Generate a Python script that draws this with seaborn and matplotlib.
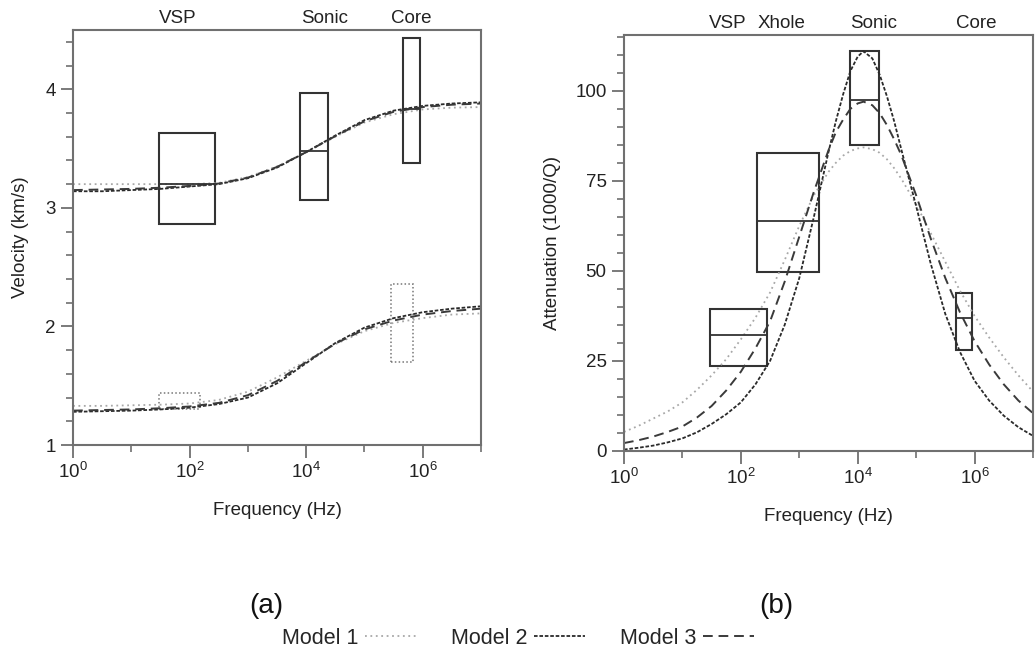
import numpy as np
import pandas as pd
import matplotlib
matplotlib.use("Agg")
import matplotlib.pyplot as plt
import seaborn as sns
from matplotlib.patches import Rectangle
from matplotlib.ticker import FixedLocator, FuncFormatter
from matplotlib.lines import Line2D
import matplotlib.transforms as mtransforms

# ---------------- data ----------------
models = ["Model 1", "Model 2", "Model 3"]

# velocity curves (log10 frequency grid)
vel_exp = [0, 0.5, 1, 1.5, 2, 2.5, 3, 3.5, 4, 4.5, 5, 5.5, 6, 6.5, 7]
vp_m1 = [3.20, 3.20, 3.20, 3.20, 3.20, 3.21, 3.26, 3.35, 3.47, 3.60, 3.72, 3.79, 3.83, 3.845, 3.85]
vp_m2 = [3.14, 3.14, 3.15, 3.16, 3.18, 3.20, 3.25, 3.34, 3.47, 3.61, 3.74, 3.82, 3.86, 3.88, 3.89]
vp_m3 = [3.15, 3.155, 3.16, 3.17, 3.185, 3.205, 3.255, 3.345, 3.47, 3.605, 3.73, 3.81, 3.85, 3.87, 3.88]
vs_m1 = [1.33, 1.33, 1.335, 1.34, 1.35, 1.38, 1.45, 1.57, 1.71, 1.85, 1.96, 2.03, 2.07, 2.10, 2.11]
vs_m2 = [1.28, 1.285, 1.29, 1.30, 1.315, 1.345, 1.40, 1.52, 1.69, 1.86, 1.99, 2.07, 2.12, 2.15, 2.17]
vs_m3 = [1.29, 1.295, 1.30, 1.31, 1.325, 1.355, 1.42, 1.54, 1.70, 1.855, 1.975, 2.05, 2.10, 2.13, 2.15]

# attenuation curves
att_exp = [0, 0.25, 0.5, 0.75, 1, 1.25, 1.5, 1.75, 2, 2.25, 2.5, 2.75, 3, 3.25, 3.5,
           3.625, 3.75, 3.875, 4, 4.1, 4.25, 4.375, 4.5, 4.625, 4.75, 5, 5.25, 5.5,
           5.75, 6, 6.25, 6.5, 6.75, 7]
att_m1 = [5.3, 7.0, 9.0, 11.0, 13.5, 17.0, 21.0, 25.5, 31.0, 37.0, 44.0, 53.0, 62.5, 71.0, 77.5,
          80.0, 82.0, 83.3, 84.0, 84.3, 83.8, 82.8, 81.0, 78.5, 75.5, 68.5, 60.5, 52.5,
          44.5, 37.5, 31.5, 26.0, 21.0, 16.5]
att_m2 = [0.4, 0.9, 1.5, 2.4, 3.5, 5.2, 7.5, 10.2, 13.5, 18.5, 25.0, 35.0, 48.0, 65.0, 83.0,
          91.5, 99.0, 105.5, 109.5, 111.0, 109.0, 104.5, 98.5, 91.5, 83.5, 68.0, 52.0, 38.0,
          27.5, 19.5, 14.0, 9.8, 6.6, 4.2]
att_m3 = [2.2, 3.0, 4.0, 5.3, 6.8, 9.3, 12.5, 16.8, 22.0, 28.5, 36.0, 47.0, 59.5, 72.0, 83.5,
          88.5, 92.0, 95.0, 96.5, 97.0, 96.0, 93.8, 90.5, 86.5, 82.0, 71.0, 59.0, 48.0,
          38.5, 30.5, 24.0, 18.5, 14.0, 10.5]

# P-wave boxes (velocity panel, solid)
p_box_names = ["VSP", "Sonic", "Core"]
p_box_lo_exp = [1.47, 3.90, 5.67]
p_box_hi_exp = [2.43, 4.38, 5.95]
p_box_low = [2.86, 3.07, 3.38]
p_box_high = [3.63, 3.97, 4.43]
p_box_med = [3.20, 3.48, 3.83]
# S-wave boxes (velocity panel, dotted)
s_box_lo_exp = [1.47, 5.45]
s_box_hi_exp = [2.17, 5.83]
s_box_low = [1.30, 1.70]
s_box_high = [1.44, 2.36]

# attenuation boxes
q_box_names = ["VSP", "Xhole", "Sonic", "Core"]
q_box_lo_exp = [1.47, 2.27, 3.86, 5.68]
q_box_hi_exp = [2.44, 3.33, 4.36, 5.95]
q_box_low = [23.6, 49.7, 85.0, 28.0]
q_box_high = [39.4, 82.8, 111.0, 43.9]
q_box_med = [32.2, 63.9, 97.5, 37.0]

# top labels
vel_label_names = ["VSP", "Sonic", "Core"]
vel_label_exp = [1.79, 4.31, 5.81]
att_label_names = ["VSP", "Xhole", "Sonic", "Core"]
att_label_exp = [1.78, 2.70, 4.27, 6.03]

# ---------------- style ----------------
sns.set_theme(style="ticks")
plt.rcParams["font.family"] = ["Liberation Sans", "DejaVu Sans"]
plt.rcParams["mathtext.fontset"] = "custom"
plt.rcParams["mathtext.rm"] = "Liberation Sans"
plt.rcParams["mathtext.it"] = "Liberation Sans:italic"

styles = {
    "Model 1": dict(color="#a8a8a8", linestyle=(0, (1, 2)), linewidth=1.3),
    "Model 2": dict(color="#2a2a2a", linestyle=(0, (2, 1)), linewidth=1.3),
    "Model 3": dict(color="#3a3a3a", linestyle=(0, (5, 3)), linewidth=1.4),
}
spine_col = "#707070"
box_col = "#333333"
FS = 13.5

fig = plt.figure(figsize=(10.36, 6.58), dpi=100)
axL = fig.add_axes([0.0705, 0.3237, 0.3938, 0.6307])
axR = fig.add_axes([0.6023, 0.3146, 0.3948, 0.6322])


def style_axis(ax):
    ax.set_xscale("log")
    ax.set_xlim(1, 1e7)
    ax.xaxis.set_major_locator(FixedLocator([1, 1e2, 1e4, 1e6]))
    ax.xaxis.set_minor_locator(FixedLocator([1e1, 1e3, 1e5, 1e7]))
    ax.xaxis.set_major_formatter(FuncFormatter(lambda v, p: r"$10^{%d}$" % round(np.log10(v))))
    ax.xaxis.set_minor_formatter(FuncFormatter(lambda v, p: ""))
    for s in ax.spines.values():
        s.set_color(spine_col)
        s.set_linewidth(1.5)
        s.set_visible(True)
    ax.tick_params(which="major", direction="out", length=9, width=1.3, color=spine_col,
                   labelsize=FS, labelcolor="#222222", top=False, right=False)
    ax.tick_params(which="minor", direction="out", length=5, width=1.2, color=spine_col,
                   top=False, right=False)
    ax.set_xlabel("Frequency (Hz)", fontsize=FS, color="#222222", labelpad=14)


# ---------------- left: velocity ----------------
vx = 10.0 ** np.array(vel_exp)
for name, vp, vs in zip(models, [vp_m1, vp_m2, vp_m3], [vs_m1, vs_m2, vs_m3]):
    sns.lineplot(x=vx, y=vp, ax=axL, **styles[name])
    sns.lineplot(x=vx, y=vs, ax=axL, **styles[name])

for lo, hi, yl, yh, md in zip(p_box_lo_exp, p_box_hi_exp, p_box_low, p_box_high, p_box_med):
    x0, x1 = 10 ** lo, 10 ** hi
    axL.add_patch(Rectangle((x0, yl), x1 - x0, yh - yl, fill=False, edgecolor=box_col, linewidth=1.5))
    axL.hlines(md, x0, x1, color=box_col, linewidth=1.3)
for lo, hi, yl, yh in zip(s_box_lo_exp, s_box_hi_exp, s_box_low, s_box_high):
    x0, x1 = 10 ** lo, 10 ** hi
    axL.add_patch(Rectangle((x0, yl), x1 - x0, yh - yl, fill=False, edgecolor="#777777",
                            linewidth=1.1, linestyle=(0, (1, 1.5))))

style_axis(axL)
axL.set_ylim(1, 4.5)
axL.yaxis.set_major_locator(FixedLocator([1, 2, 3, 4]))
axL.yaxis.set_minor_locator(FixedLocator(np.arange(1, 4.51, 0.2)))
axL.set_ylabel("Velocity (km/s)", fontsize=FS, color="#222222", labelpad=12)
trL = mtransforms.blended_transform_factory(axL.transData, axL.transAxes)
for nm, e in zip(vel_label_names, vel_label_exp):
    axL.text(10 ** e, 1.008, nm, transform=trL, ha="center", va="bottom", fontsize=FS, color="#222222")

# ---------------- right: attenuation ----------------
ax_ = 10.0 ** np.array(att_exp)
for name, q in zip(models, [att_m1, att_m2, att_m3]):
    sns.lineplot(x=ax_, y=q, ax=axR, **styles[name])

for lo, hi, yl, yh, md in zip(q_box_lo_exp, q_box_hi_exp, q_box_low, q_box_high, q_box_med):
    x0, x1 = 10 ** lo, 10 ** hi
    axR.add_patch(Rectangle((x0, yl), x1 - x0, yh - yl, fill=False, edgecolor=box_col, linewidth=1.5))
    axR.hlines(md, x0, x1, color=box_col, linewidth=1.3)

style_axis(axR)
axR.set_ylim(0, 115.5)
axR.yaxis.set_major_locator(FixedLocator([0, 25, 50, 75, 100]))
axR.yaxis.set_minor_locator(FixedLocator(np.arange(0, 115.1, 5)))
axR.set_ylabel("Attenuation (1000/Q)", fontsize=FS, color="#222222", labelpad=10)
trR = mtransforms.blended_transform_factory(axR.transData, axR.transAxes)
for nm, e in zip(att_label_names, att_label_exp):
    axR.text(10 ** e, 1.008, nm, transform=trR, ha="center", va="bottom", fontsize=FS, color="#222222")

# panel letters
fig.text(266 / 1036, 1 - 606 / 658, "(a)", ha="center", va="center", fontsize=20, color="#111111")
fig.text(776 / 1036, 1 - 606 / 658, "(b)", ha="center", va="center", fontsize=20, color="#111111")

# legend (label first, then line sample)
handles = [Line2D([], [], **styles[m]) for m in models]
fig.legend(handles, models, loc="center", bbox_to_anchor=(0.5, 1 - 638 / 658), ncol=3,
           frameon=False, markerfirst=False, fontsize=15.5, handlelength=2.4,
           handletextpad=0.3, columnspacing=1.6)

fig.savefig("out.png", dpi=100)
